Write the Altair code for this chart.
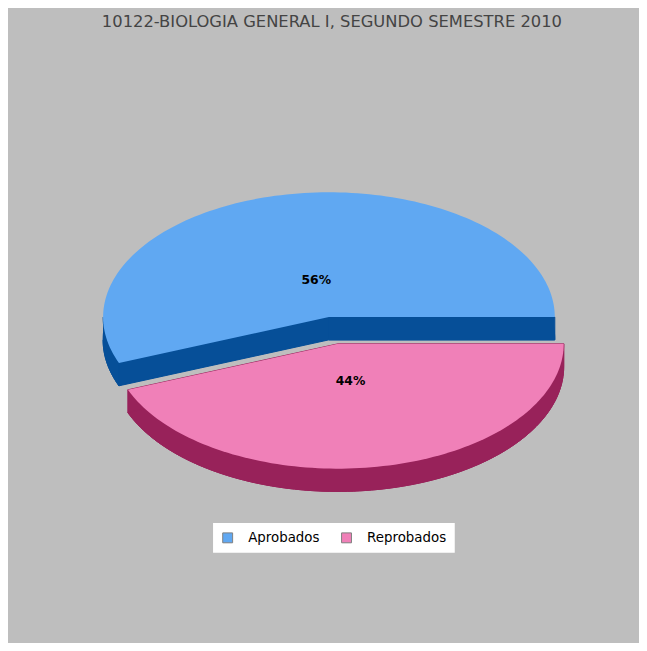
import math
import altair as alt
import pandas as pd

# ---- data ----
categories = ["Aprobados", "Reprobados"]
values = [56, 44]
top_colors = ["#60a8f2", "#f080b8"]
side_colors = ["#064f98", "#98225a"]
title_text = "10122-BIOLOGIA GENERAL I, SEGUNDO SEMESTRE 2010"

# ---- geometry (pixel-like units of the linear scales) ----
W, H = 637, 635
CX, CY = 324, 309      # pie centre
A, B = 228, 126        # ellipse half axes (3D tilt)
DEPTH = 23             # pie thickness
EXPLODE = {"Reprobados": (48, 27.5)}
LABEL_R = 0.3

total = sum(values)
rows = []
label_rows = []
pid = [0]


def pt(cx, cy, deg, dy=0.0):
    r = math.radians(deg)
    return cx + A * math.cos(r), cy - B * math.sin(r) + dy


def add(poly, layer, cat):
    for i, (x, y) in enumerate(poly):
        rows.append({"pid": pid[0], "i": i, "x": x, "y": y, "layer": layer, "cat": cat})
    pid[0] += 1


start = 0.0
for cat, v in zip(categories, values):
    ext = v / total * 360.0
    end = start + ext
    mid = (start + end) / 2.0
    ex, ey = EXPLODE.get(cat, (0.0, 0.0))
    cx = CX + ex * math.cos(math.radians(mid))
    cy = CY - ey * math.sin(math.radians(mid))
    n = max(2, int(ext / 1.5))
    arc = [start + (end - start) * k / n for k in range(n + 1)]
    sector = [(cx, cy)] + [pt(cx, cy, d) for d in arc]

    # side pieces (extrusion)
    add([(x, y + DEPTH) for x, y in sector], "side", cat)
    lo, hi = max(start, 180.0), min(end, 360.0)
    if hi > lo:
        m = max(2, int((hi - lo) / 1.5))
        band_angles = [lo + (hi - lo) * k / m for k in range(m + 1)]
        band = [pt(cx, cy, d) for d in band_angles] + [pt(cx, cy, d, DEPTH) for d in reversed(band_angles)]
        add(band, "side", cat)
    for edge in (start, end):
        px, py = pt(cx, cy, edge)
        add([(cx, cy), (px, py), (px, py + DEPTH), (cx, cy + DEPTH)], "side", cat)

    # top face
    add(sector, "top", cat)

    label_rows.append({
        "x": cx + LABEL_R * A * math.cos(math.radians(mid)),
        "y": cy - LABEL_R * B * math.sin(math.radians(mid)),
        "text": f"{round(v / total * 100)}%",
    })
    start = end

df = pd.DataFrame(rows)
side_df = df[df.layer == "side"]
top_df = df[df.layer == "top"]
lab_df = pd.DataFrame(label_rows)

xenc = alt.X("x:Q", scale=alt.Scale(domain=[0, W], nice=False, zero=False), axis=None)
yenc = alt.Y("y:Q", scale=alt.Scale(domain=[H, 0], nice=False, zero=False), axis=None)

sides = alt.Chart(side_df).mark_line(strokeWidth=1, strokeJoin="round").encode(
    x=xenc, y=yenc,
    detail="pid:N",
    order="i:Q",
    fill=alt.Fill("cat:N", scale=alt.Scale(domain=categories, range=side_colors), legend=None),
    stroke=alt.Stroke("cat:N", scale=alt.Scale(domain=categories, range=side_colors), legend=None),
)

tops = alt.Chart(top_df).mark_line(strokeWidth=0).encode(
    x=xenc, y=yenc,
    detail="pid:N",
    order="i:Q",
    fill=alt.Fill(
        "cat:N",
        scale=alt.Scale(domain=categories, range=top_colors),
        legend=alt.Legend(
            orient="none", legendX=207, legendY=517, direction="horizontal",
            title=None, fillColor="white", padding=8,
            symbolType="square", symbolSize=100, symbolStrokeColor="#808080",
            symbolStrokeWidth=1, symbolOpacity=1,
            labelFontSize=13.5, labelFont="DejaVu Sans", labelColor="black",
            labelOffset=14, columnPadding=19,
        ),
    ),
)

labels = alt.Chart(lab_df).mark_text(
    font="DejaVu Sans", fontWeight="bold", fontSize=12.5, color="black", baseline="middle", align="center"
).encode(x=xenc, y=yenc, text="text:N")

title = alt.Chart(pd.DataFrame({"t": [title_text]})).mark_text(
    font="DejaVu Sans", fontSize=16.5, color="#444444", baseline="middle", align="center"
).encode(x=alt.value(327), y=alt.value(11), text="t:N")

chart = alt.layer(sides, tops, labels, title).resolve_scale(
    fill="independent", stroke="independent"
).properties(
    width=W, height=H, background="#bebebe", padding=0,
    autosize=alt.AutoSizeParams(type="none"),
).configure_view(stroke=None)

chart.save("out.html", embed_options={"renderer": "svg", "actions": False})
